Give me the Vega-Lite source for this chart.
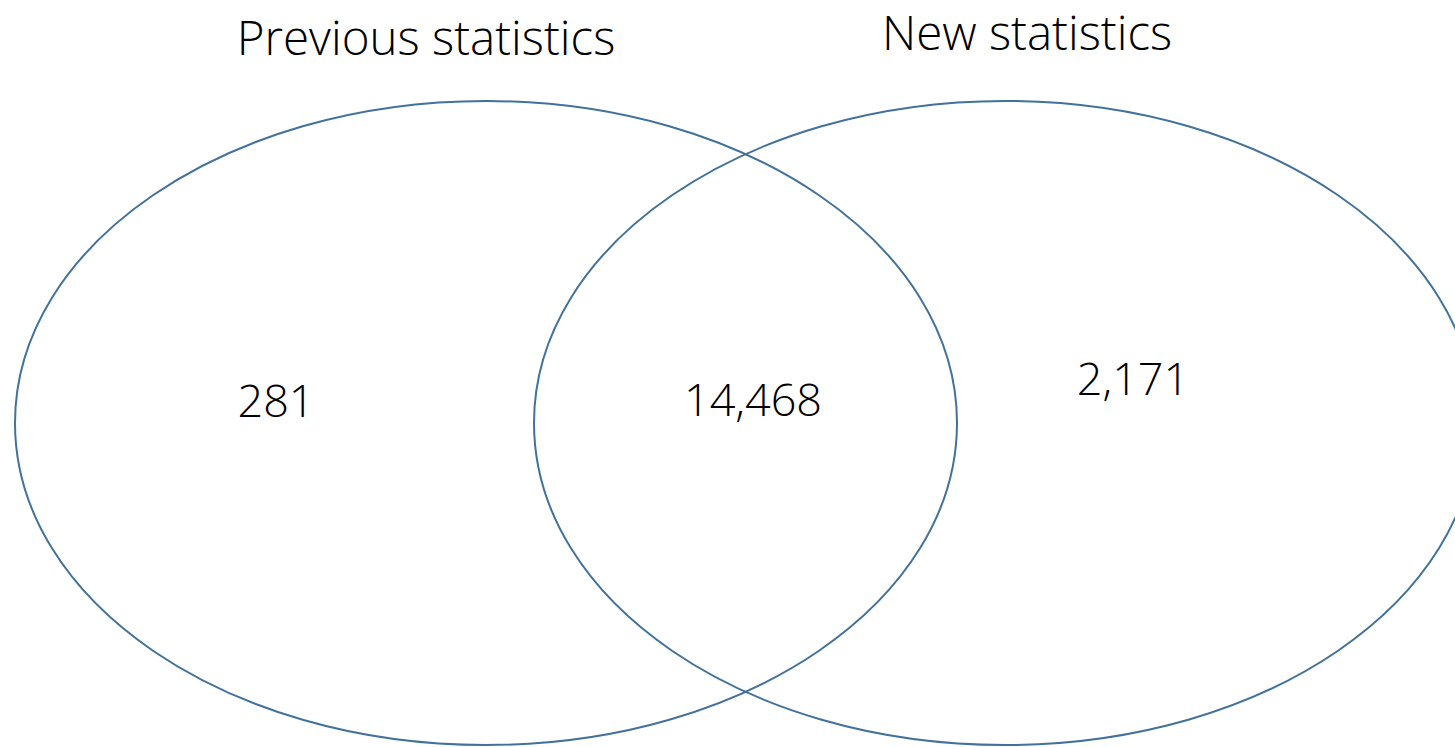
{
  "$schema": "https://vega.github.io/schema/vega-lite/v6.json",
  "width": 1455,
  "height": 747,
  "autosize": "none",
  "padding": 0,
  "background": "white",
  "config": {"view": {"stroke": null}},
  "layer": [
    {
      "data": {"values": [
        {"set": "Previous statistics", "cx": 486, "cy": 423},
        {"set": "New statistics", "cx": 1005, "cy": 423}
      ]},
      "mark": {
        "type": "point",
        "filled": false,
        "stroke": "#41719C",
        "strokeWidth": 2,
        "opacity": 1,
        "size": 887364,
        "shape": "M 1 0 C 1 0.3776 0.5523 0.6837 0 0.6837 C -0.5523 0.6837 -1 0.3776 -1 0 C -1 -0.3776 -0.5523 -0.6837 0 -0.6837 C 0.5523 -0.6837 1 -0.3776 1 0 Z"
      },
      "encoding": {
        "x": {"field": "cx", "type": "quantitative", "scale": {"domain": [0, 1455], "nice": false, "zero": false}, "axis": null},
        "y": {"field": "cy", "type": "quantitative", "scale": {"domain": [747, 0], "nice": false, "zero": false}, "axis": null}
      }
    },
    {
      "data": {"values": [
        {"label": "Previous statistics", "x": 426, "y": 55, "kind": "title"},
        {"label": "New statistics", "x": 1027, "y": 50, "kind": "title"},
        {"label": "281", "x": 276, "y": 417, "kind": "count"},
        {"label": "14,468", "x": 753, "y": 416, "kind": "count"},
        {"label": "2,171", "x": 1133, "y": 395, "kind": "count"}
      ]},
      "mark": {"type": "text", "align": "center", "baseline": "alphabetic", "font": "Open Sans", "fontWeight": 300, "color": "#000000"},
      "encoding": {
        "x": {"field": "x", "type": "quantitative", "scale": {"domain": [0, 1455], "nice": false, "zero": false}, "axis": null},
        "y": {"field": "y", "type": "quantitative", "scale": {"domain": [747, 0], "nice": false, "zero": false}, "axis": null},
        "text": {"field": "label"},
        "size": {"field": "kind", "type": "nominal", "scale": {"domain": ["title", "count"], "range": [47.5, 45]}, "legend": null}
      }
    }
  ]
}
